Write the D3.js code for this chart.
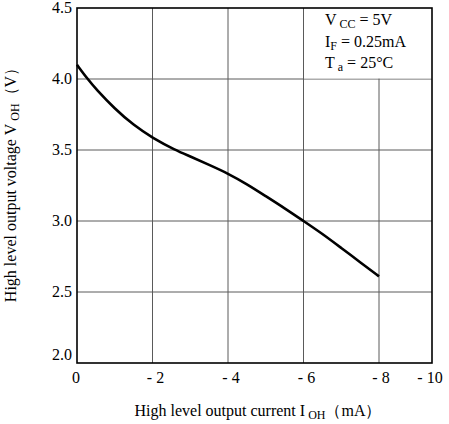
<!DOCTYPE html>
<html>
<head>
	<meta charset="utf-8">
	<title></title>
	<script src="https://d3js.org/d3.v7.min.js"></script>
	<style>
		body{
			margin:0;
			background:#fff;
		}
		text{
			font-family:"Liberation Serif", "Times New Roman", serif;
			font-size:16px;
			fill:#000;
		}
		.grid{
			stroke:#5a5a5a;
			stroke-width:1;
		}
	</style>
</head>
<body>
	<svg width='449' height='424'></svg>
</body>
<script>
	var current = [0, -0.28, -0.5, -1, -1.5, -2, -2.6, -3, -3.5, -4, -4.5, -5, -5.5, -6, -6.5, -7, -7.5, -8];
	var voltage = [4.10, 4.0, 3.93, 3.79, 3.675, 3.585, 3.5, 3.455, 3.395, 3.335, 3.26, 3.175, 3.09, 3.0, 2.91, 2.81, 2.71, 2.61];
	var xTicks = [0, -2, -4, -6, -8, -10];
	var xTickLabels = ['0', '- 2', '- 4', '- 6', '- 8', '- 10'];
	var yTicks = [2.0, 2.5, 3.0, 3.5, 4.0, 4.5];

	var svg = d3.select('svg');
	var pLeft = 77, pRight = 432, pTop = 8, pBottom = 363;

	// the last division (-8 .. -10) is drawn narrower in the original
	var x = d3.scaleLinear().domain([0, -8, -10]).range([pLeft, 379, pRight]);
	var y = d3.scaleLinear().domain([2.0, 4.5]).range([pBottom, pTop]);

	var g = svg.append('g');

	g.selectAll('.vgrid').data(xTicks.slice(1, -1)).enter()
		.append('line')
		.attr('class', 'grid')
		.attr('x1', function(d){ return x(d); })
		.attr('x2', function(d){ return x(d); })
		.attr('y1', pTop)
		.attr('y2', pBottom);

	g.selectAll('.hgrid').data(yTicks.slice(1, -1)).enter()
		.append('line')
		.attr('class', 'grid')
		.attr('x1', pLeft)
		.attr('x2', pRight)
		.attr('y1', function(d){ return y(d); })
		.attr('y2', function(d){ return y(d); });

	// legend area has no grid
	g.append('rect')
		.attr('x', x(-6) + 0.5)
		.attr('y', pTop)
		.attr('width', pRight - x(-6) - 0.5)
		.attr('height', y(4.0) - pTop - 0.5)
		.attr('fill', '#fff');

	g.append('rect')
		.attr('x', pLeft)
		.attr('y', pTop)
		.attr('width', pRight - pLeft)
		.attr('height', pBottom - pTop)
		.attr('fill', 'none')
		.attr('stroke', '#000')
		.attr('stroke-width', 1.6);

	var line = d3.line()
		.x(function(d){ return x(d[0]); })
		.y(function(d){ return y(d[1]); })
		.curve(d3.curveBasis);

	g.append('path')
		.datum(d3.zip(current, voltage))
		.attr('d', line)
		.attr('fill', 'none')
		.attr('stroke', '#000')
		.attr('stroke-width', 2.6);

	// tick labels
	var xOff = [-1, 3, 3, 3, 2, -2];
	g.selectAll('.xl').data(xTicks).enter()
		.append('text')
		.attr('x', function(d, i){ return x(d) + xOff[i]; })
		.attr('y', 383)
		.attr('text-anchor', 'middle')
		.text(function(d, i){ return xTickLabels[i]; });

	g.selectAll('.yl').data(yTicks).enter()
		.append('text')
		.attr('x', 72)
		.attr('y', function(d){ return y(d) + (d === 2.0 ? -3 : 5); })
		.attr('text-anchor', 'end')
		.text(function(d){ return d.toFixed(1); });

	// conditions
	var legend = g.append('g').attr('transform', 'translate(325,0)');
	var t1 = legend.append('text').attr('y', 25);
	t1.append('tspan').text('V');
	t1.append('tspan').attr('font-size', '12px').attr('dy', 3).text(' CC');
	t1.append('tspan').attr('dy', -3).text(' = 5V');

	var t2 = legend.append('text').attr('y', 47);
	t2.append('tspan').text('I');
	t2.append('tspan').attr('font-size', '12px').attr('dy', 3).text('F');
	t2.append('tspan').attr('dy', -3).text(' = 0.25mA');

	var t3 = legend.append('text').attr('y', 68);
	t3.append('tspan').text('T');
	t3.append('tspan').attr('font-size', '12px').attr('dy', 3).text(' a');
	t3.append('tspan').attr('dy', -3).text(' = 25°C');

	// axis titles
	var xt = svg.append('text')
		.attr('x', 258)
		.attr('y', 416)
		.attr('text-anchor', 'middle');
	xt.append('tspan').text('High level output current I');
	xt.append('tspan').attr('font-size', '12px').attr('dy', 3).text(' OH');
	xt.append('tspan').attr('dy', -3).text('（mA）');

	var yt = svg.append('text')
		.attr('transform', 'translate(16,181) rotate(-90)')
		.attr('text-anchor', 'middle');
	yt.append('tspan').text('High level output voltage V');
	yt.append('tspan').attr('font-size', '12px').attr('dy', 3).text(' OH');
	yt.append('tspan').attr('dy', -3).text('（V）');
</script>
</html>
